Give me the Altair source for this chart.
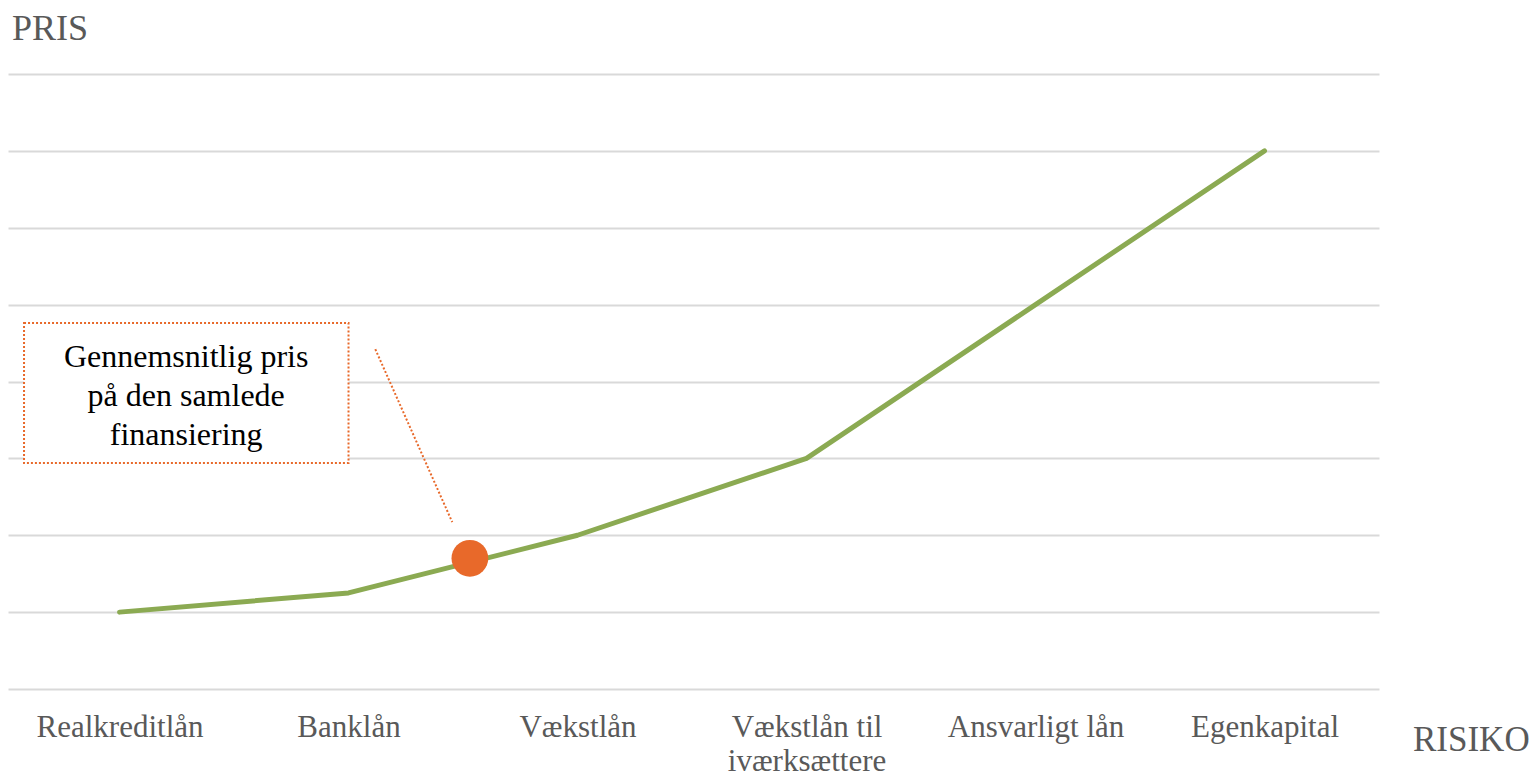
import json
import altair as alt
import pandas as pd

# ---- data ----
categories = ["Realkreditlån", "Banklån", "Vækstlån", "Vækstlån til\niværksættere",
              "Ansvarligt lån", "Egenkapital"]
prices = [1.0, 1.25, 2.0, 3.0, 5.0, 7.0]

avg_pos = [1.53]      # position between Banklån and Vækstlån
avg_price = [1.70]

note_text = ["Gennemsnitlig pris", "på den samlede", "finansiering"]
note_box_x = [-0.417, 1.0]
note_box_y = [2.94, 4.76]
note_text_xy = [0.291, 4.32]
leader_x = [1.117, 1.453]
leader_y = [4.42, 2.17]

y_title = "PRIS"
x_title = "RISIKO"

# ---- chart ----
SERIF = "Liberation Serif"
GRAY = "#595959"
ORANGE = "#E8692A"
GREEN = "#8BAA52"

label_expr = "[" + ",".join(
    "[" + ",".join(json.dumps(p, ensure_ascii=False) for p in c.split("\n")) + "]"
    for c in categories) + "][datum.value]"

xscale = alt.Scale(domain=[-0.487, 5.5], nice=False, zero=False)
yscale = alt.Scale(domain=[0, 8], nice=False, zero=True)

xaxis = alt.Axis(values=list(range(len(categories))), labelExpr=label_expr, grid=False,
                 domain=False, ticks=False, title=None, labelFont=SERIF, labelFontSize=31,
                 labelColor=GRAY, labelPadding=23, labelLineHeight=34,
                 labelOverlap=False, labelFlush=False)
yaxis = alt.Axis(values=list(range(9)), grid=True, gridColor="#D9D9D9", gridWidth=2,
                 labels=False, ticks=False, domain=False, title=None)

line_df = pd.DataFrame({"x": list(range(len(categories))), "y": prices})
line = alt.Chart(line_df).mark_line(color=GREEN, strokeWidth=5, strokeCap="round",
                                    strokeJoin="round").encode(
    x=alt.X("x:Q", scale=xscale, axis=xaxis),
    y=alt.Y("y:Q", scale=yscale, axis=yaxis),
)

dot_df = pd.DataFrame({"x": avg_pos, "y": avg_price})
dot = alt.Chart(dot_df).mark_circle(color=ORANGE, opacity=1, size=1350).encode(
    x=alt.X("x:Q", scale=xscale), y=alt.Y("y:Q", scale=yscale))

box_df = pd.DataFrame({"x": [note_box_x[0]], "x2": [note_box_x[1]],
                       "y": [note_box_y[0]], "y2": [note_box_y[1]]})
box = alt.Chart(box_df).mark_rect(fill="white", stroke=ORANGE, strokeWidth=2,
                                  strokeDash=[2, 2]).encode(
    x=alt.X("x:Q", scale=xscale), x2="x2", y=alt.Y("y:Q", scale=yscale), y2="y2")

note_df = pd.DataFrame({"x": [note_text_xy[0]], "y": [note_text_xy[1]],
                        "t": ["\n".join(note_text)]})
note = alt.Chart(note_df).mark_text(font=SERIF, fontSize=32, color="black", align="center",
                                    baseline="middle", lineBreak="\n", lineHeight=39).encode(
    x=alt.X("x:Q", scale=xscale), y=alt.Y("y:Q", scale=yscale), text="t:N")

leader_df = pd.DataFrame({"x": [leader_x[0]], "x2": [leader_x[1]],
                          "y": [leader_y[0]], "y2": [leader_y[1]]})
leader = alt.Chart(leader_df).mark_rule(color=ORANGE, strokeWidth=2, strokeDash=[2, 2]).encode(
    x=alt.X("x:Q", scale=xscale), x2="x2", y=alt.Y("y:Q", scale=yscale), y2="y2")

ytitle = alt.Chart(pd.DataFrame({"t": [y_title]})).mark_text(
    font=SERIF, fontSize=36, color=GRAY, align="left", baseline="alphabetic").encode(
    x=alt.value(4), y=alt.value(-34), text="t:N")

xtitle = alt.Chart(pd.DataFrame({"t": [x_title]})).mark_text(
    font=SERIF, fontSize=35, color=GRAY, align="left", baseline="alphabetic").encode(
    x=alt.value(1405), y=alt.value(677), text="t:N")

chart = alt.layer(line, dot, box, note, leader, ytitle, xtitle).properties(
    width=1371, height=615,
    background="white",
    autosize=alt.AutoSizeParams(type="none"),
    padding={"left": 0, "top": 66, "right": 150, "bottom": 90},
).configure_view(strokeWidth=0, stroke="transparent")

chart.save("out.html", embed_options={"renderer": "svg", "actions": False})
